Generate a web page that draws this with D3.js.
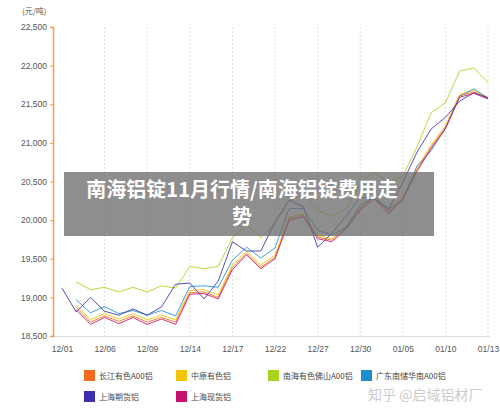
<!DOCTYPE html>
<html><head><meta charset="utf-8">
<script src="https://cdn.jsdelivr.net/npm/d3@7"></script>
<style>body{margin:0;background:#fff}svg{font-family:"Noto Sans CJK SC","DejaVu Sans",sans-serif}</style>
</head><body><svg id="c" width="500" height="409"></svg>
<script>
const dates=["12/01","","","12/06","","","12/09","","","12/14","","","12/17","","","12/22","","","12/27","","","12/30","","","01/05","","","01/10","","","01/13"];
const tickLabels=["12/01","12/06","12/09","12/14","12/17","12/22","12/27","12/30","01/05","01/10","01/13"];
const yTicks=[18500,19000,19500,20000,20500,21000,21500,22000,22500];
const seriesNames=["长江有色A00铝","中原有色铝","南海有色佛山A00铝","广东南储华南A00铝","上海期货铝","上海现货铝"];
const colors=["#f26b1d","#f5c400","#a8d41c","#1c8fd0","#3b2fb0","#c8106e"];
const changjiang=[null,18870,18680,18760,18690,18760,18680,18740,18680,19060,19070,19000,19390,19570,19390,19520,20020,20060,19780,19740,19900,20150,20300,20100,20290,20650,20950,21200,21610,21660,21580];
const zhongyuan=[null,18900,18710,18790,18720,18790,18710,18770,18710,19090,19100,19030,19420,19600,19420,19550,20040,20080,19800,19760,19920,20170,20310,20120,20300,20680,20970,21220,21630,21680,21590];
const nanhai=[null,19200,19100,19130,19070,19130,19070,19150,19120,19400,19370,19400,19770,19940,19770,19950,20250,20330,20130,20050,20140,20480,20620,20480,20570,20950,21390,21520,21930,21970,21780];
const guangdong=[null,18970,18800,18880,18790,18830,18770,18830,18760,19140,19150,19130,19480,19650,19510,19640,20150,20150,19870,19810,19900,20200,20300,20150,20250,20700,20900,21190,21600,21700,21580];
const shqh=[19120,18810,19000,18820,18770,18850,18770,18875,19170,19185,18980,19210,19720,19600,19600,19975,20260,20170,19650,19830,20050,20300,20270,20140,20490,20880,21180,21330,21540,21650,21580];
const shxh=[null,18840,18650,18740,18660,18740,18650,18720,18650,19040,19050,18980,19360,19550,19370,19500,20000,20040,19760,19720,19880,20130,20280,20080,20270,20630,20930,21180,21590,21640,21570];
const allSeries=[changjiang,zhongyuan,nanhai,guangdong,shqh,shxh];
const svg=d3.select("#c");
const x=d3.scalePoint().domain(d3.range(dates.length)).range([62,488]);
const y=d3.scaleLinear().domain([18500,22500]).range([336,27]);
svg.append("g").selectAll("line").data(d3.range(3,dates.length,3)).join("line")
 .attr("x1",d=>x(d)).attr("x2",d=>x(d)).attr("y1",27).attr("y2",336)
 .attr("stroke","#ddd").attr("stroke-dasharray","2,2");
svg.append("line").attr("x1",53).attr("x2",490).attr("y1",336.5).attr("y2",336.5).attr("stroke","#ddd");
const ya=svg.append("g").attr("transform","translate(53,0)").call(d3.axisLeft(y).tickValues(yTicks).tickFormat(d3.format(",")).tickSize(3));
ya.select(".domain").attr("stroke","#f0a050").attr("stroke-width",1.5);
ya.selectAll(".tick line").attr("stroke","#f0a050");
ya.selectAll("text").attr("font-size",8.5).attr("fill","#555");
svg.append("text").attr("x",22).attr("y",14).attr("font-size",8).attr("fill","#555").text("(元/吨)");
const xa=svg.append("g").attr("transform","translate(0,336)").call(d3.axisBottom(x).tickValues(d3.range(0,dates.length,3)).tickFormat(i=>dates[i]).tickSize(0).tickPadding(10));
xa.select(".domain").remove();
xa.selectAll("text").attr("font-size",8.5).attr("fill","#555");
const line=d3.line().defined(d=>d!=null).x((d,i)=>x(i)).y(d=>y(d));
allSeries.forEach((s,k)=>svg.append("path").datum(s).attr("d",line).attr("fill","none").attr("stroke",colors[k]).attr("stroke-width",1).attr("opacity",0.85));
svg.append("rect").attr("x",64).attr("y",172).attr("width",370).attr("height",64).attr("fill","rgba(110,110,110,0.78)");
svg.append("text").attr("x",242).attr("y",197).attr("text-anchor","middle").attr("font-size",20).attr("font-weight","bold").attr("fill","#fff").text("南海铝锭11月行情/南海铝锭费用走");
svg.append("text").attr("x",242).attr("y",224).attr("text-anchor","middle").attr("font-size",20).attr("font-weight","bold").attr("fill","#fff").text("势");
const lx=[84,176,268,361];
seriesNames.forEach((n,k)=>{const gx=lx[k%4],gy=k<4?370:391;
 svg.append("rect").attr("x",gx).attr("y",gy).attr("width",11).attr("height",11).attr("fill",colors[k]);
 svg.append("text").attr("x",gx+15).attr("y",gy+9).attr("font-size",8).attr("fill","#444").text(n);});
svg.append("text").attr("x",368).attr("y",400).attr("font-size",14).attr("fill","#ccc").text("知乎 @启域铝材厂");
</script></body></html>
